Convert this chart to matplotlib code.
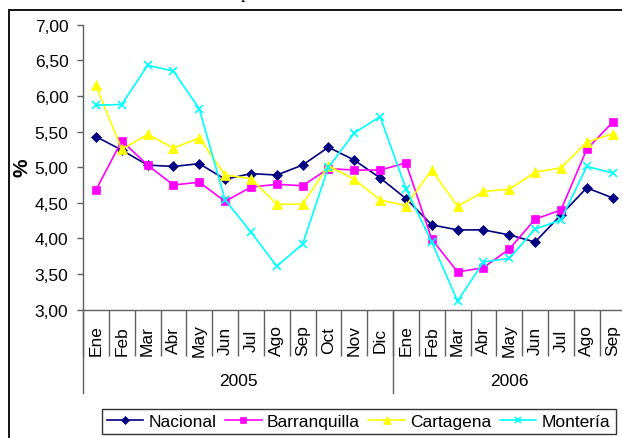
import numpy as np
import matplotlib
matplotlib.use("Agg")
import matplotlib.pyplot as plt
from matplotlib.patches import Rectangle

plt.rcParams['font.family'] = ['Liberation Sans', 'DejaVu Sans']

# datos
meses = ['Ene', 'Feb', 'Mar', 'Abr', 'May', 'Jun', 'Jul', 'Ago', 'Sep', 'Oct', 'Nov', 'Dic',
         'Ene', 'Feb', 'Mar', 'Abr', 'May', 'Jun', 'Jul', 'Ago', 'Sep']
anios = ['2005', '2006']
meses_por_anio = [12, 9]

nacional = [5.43, 5.24, 5.03, 5.01, 5.05, 4.83, 4.91, 4.89, 5.03, 5.28, 5.10, 4.85,
            4.56, 4.19, 4.12, 4.12, 4.05, 3.95, 4.33, 4.71, 4.57]
barranquilla = [4.68, 5.37, 5.03, 4.75, 4.79, 4.52, 4.72, 4.76, 4.74, 4.98, 4.96, 4.96,
                5.06, 3.99, 3.53, 3.59, 3.85, 4.27, 4.40, 5.25, 5.63]
cartagena = [6.15, 5.25, 5.46, 5.27, 5.41, 4.89, 4.84, 4.48, 4.48, 5.02, 4.83, 4.54,
             4.46, 4.96, 4.45, 4.66, 4.69, 4.93, 4.99, 5.35, 5.47]
monteria = [5.87, 5.88, 6.43, 6.35, 5.82, 4.54, 4.09, 3.61, 3.92, 5.00, 5.48, 5.71,
            4.70, 3.95, 3.12, 3.67, 3.72, 4.13, 4.26, 5.01, 4.92]

series = [('Nacional', nacional, '#000080', 'D', 4.8),
          ('Barranquilla', barranquilla, '#FF00FF', 's', 5.4),
          ('Cartagena', cartagena, '#FFFF00', '^', 6.6),
          ('Montería', monteria, '#00FFFF', 'x', 5.6)]

W, H = 622, 439
fig = plt.figure(figsize=(W / 100, H / 100), dpi=100)
ax = fig.add_axes([83 / W, 1 - 310.7 / H, 542.5 / W, 285 / H])

x = np.arange(len(meses))
for nombre, vals, color, marker, ms in series:
    ax.plot(x, vals, color=color, lw=1.2, marker=marker, markersize=ms,
            markeredgewidth=1.2 if marker == 'x' else 0.5,
            markeredgecolor=color, label=nombre, clip_on=False, zorder=3)

ax.set_xlim(-0.5, len(meses) - 0.5)
ax.set_ylim(3, 7)
ax.spines['top'].set_visible(False)
ax.spines['right'].set_visible(False)
for s in ['left', 'bottom']:
    ax.spines[s].set_color('#606060')
    ax.spines[s].set_linewidth(1.0)

yt = np.arange(3, 7.01, 0.5)
ax.set_yticks(yt)
ax.set_yticklabels([f'{v:.2f}'.replace('.', ',') for v in yt], fontsize=12.5)
ax.tick_params(axis='y', direction='out', length=4.5, width=1.0, color='#606060', pad=6)
ax.set_ylabel('%', fontsize=15, fontweight='bold', labelpad=2)

# separadores de meses
ax.set_xticks(np.arange(len(meses) + 1) - 0.5)
ax.set_xticklabels([])
ax.tick_params(axis='x', direction='out', length=46 * 0.72, width=1.0, color='#606060')

trans = ax.get_xaxis_transform()
for i, m in enumerate(meses):
    ax.text(i, -30 / 285, m, rotation=90, ha='center', va='center',
            fontsize=12.5, transform=trans)

# separadores y etiquetas de años
inicio = 0
for anio, n in zip(anios, meses_por_anio):
    ax.plot([inicio - 0.5, inicio - 0.5], [0, -83.3 / 285], color='#606060', lw=1.0,
            transform=trans, clip_on=False)
    ax.text(inicio + (n - 1) / 2, -71.3 / 285, anio, ha='center', va='center',
            fontsize=12.5, transform=trans)
    inicio += n

leg = fig.legend(loc='center', bbox_to_anchor=(358.5 / W, 1 - 422.5 / H), ncol=4,
                 fontsize=12.5, frameon=True, fancybox=False, handlelength=2.1,
                 handletextpad=0.3, columnspacing=0.5, borderpad=0.3, markerscale=0.8)
leg.get_frame().set_edgecolor('black')
leg.get_frame().set_linewidth(1.0)

# marco exterior del gráfico
fig.patches.append(Rectangle((8.5 / W, -0.1), 1.2, (H - 10.5) / H + 0.1, fill=False,
                             edgecolor='black', lw=1.3, transform=fig.transFigure))

# resto del título (recortado arriba)
fig.text(245 / W, 1 + 1.5 / H, 'p', family='Liberation Serif', fontsize=13,
         ha='center', va='baseline')

fig.savefig('out.png', dpi=100)
